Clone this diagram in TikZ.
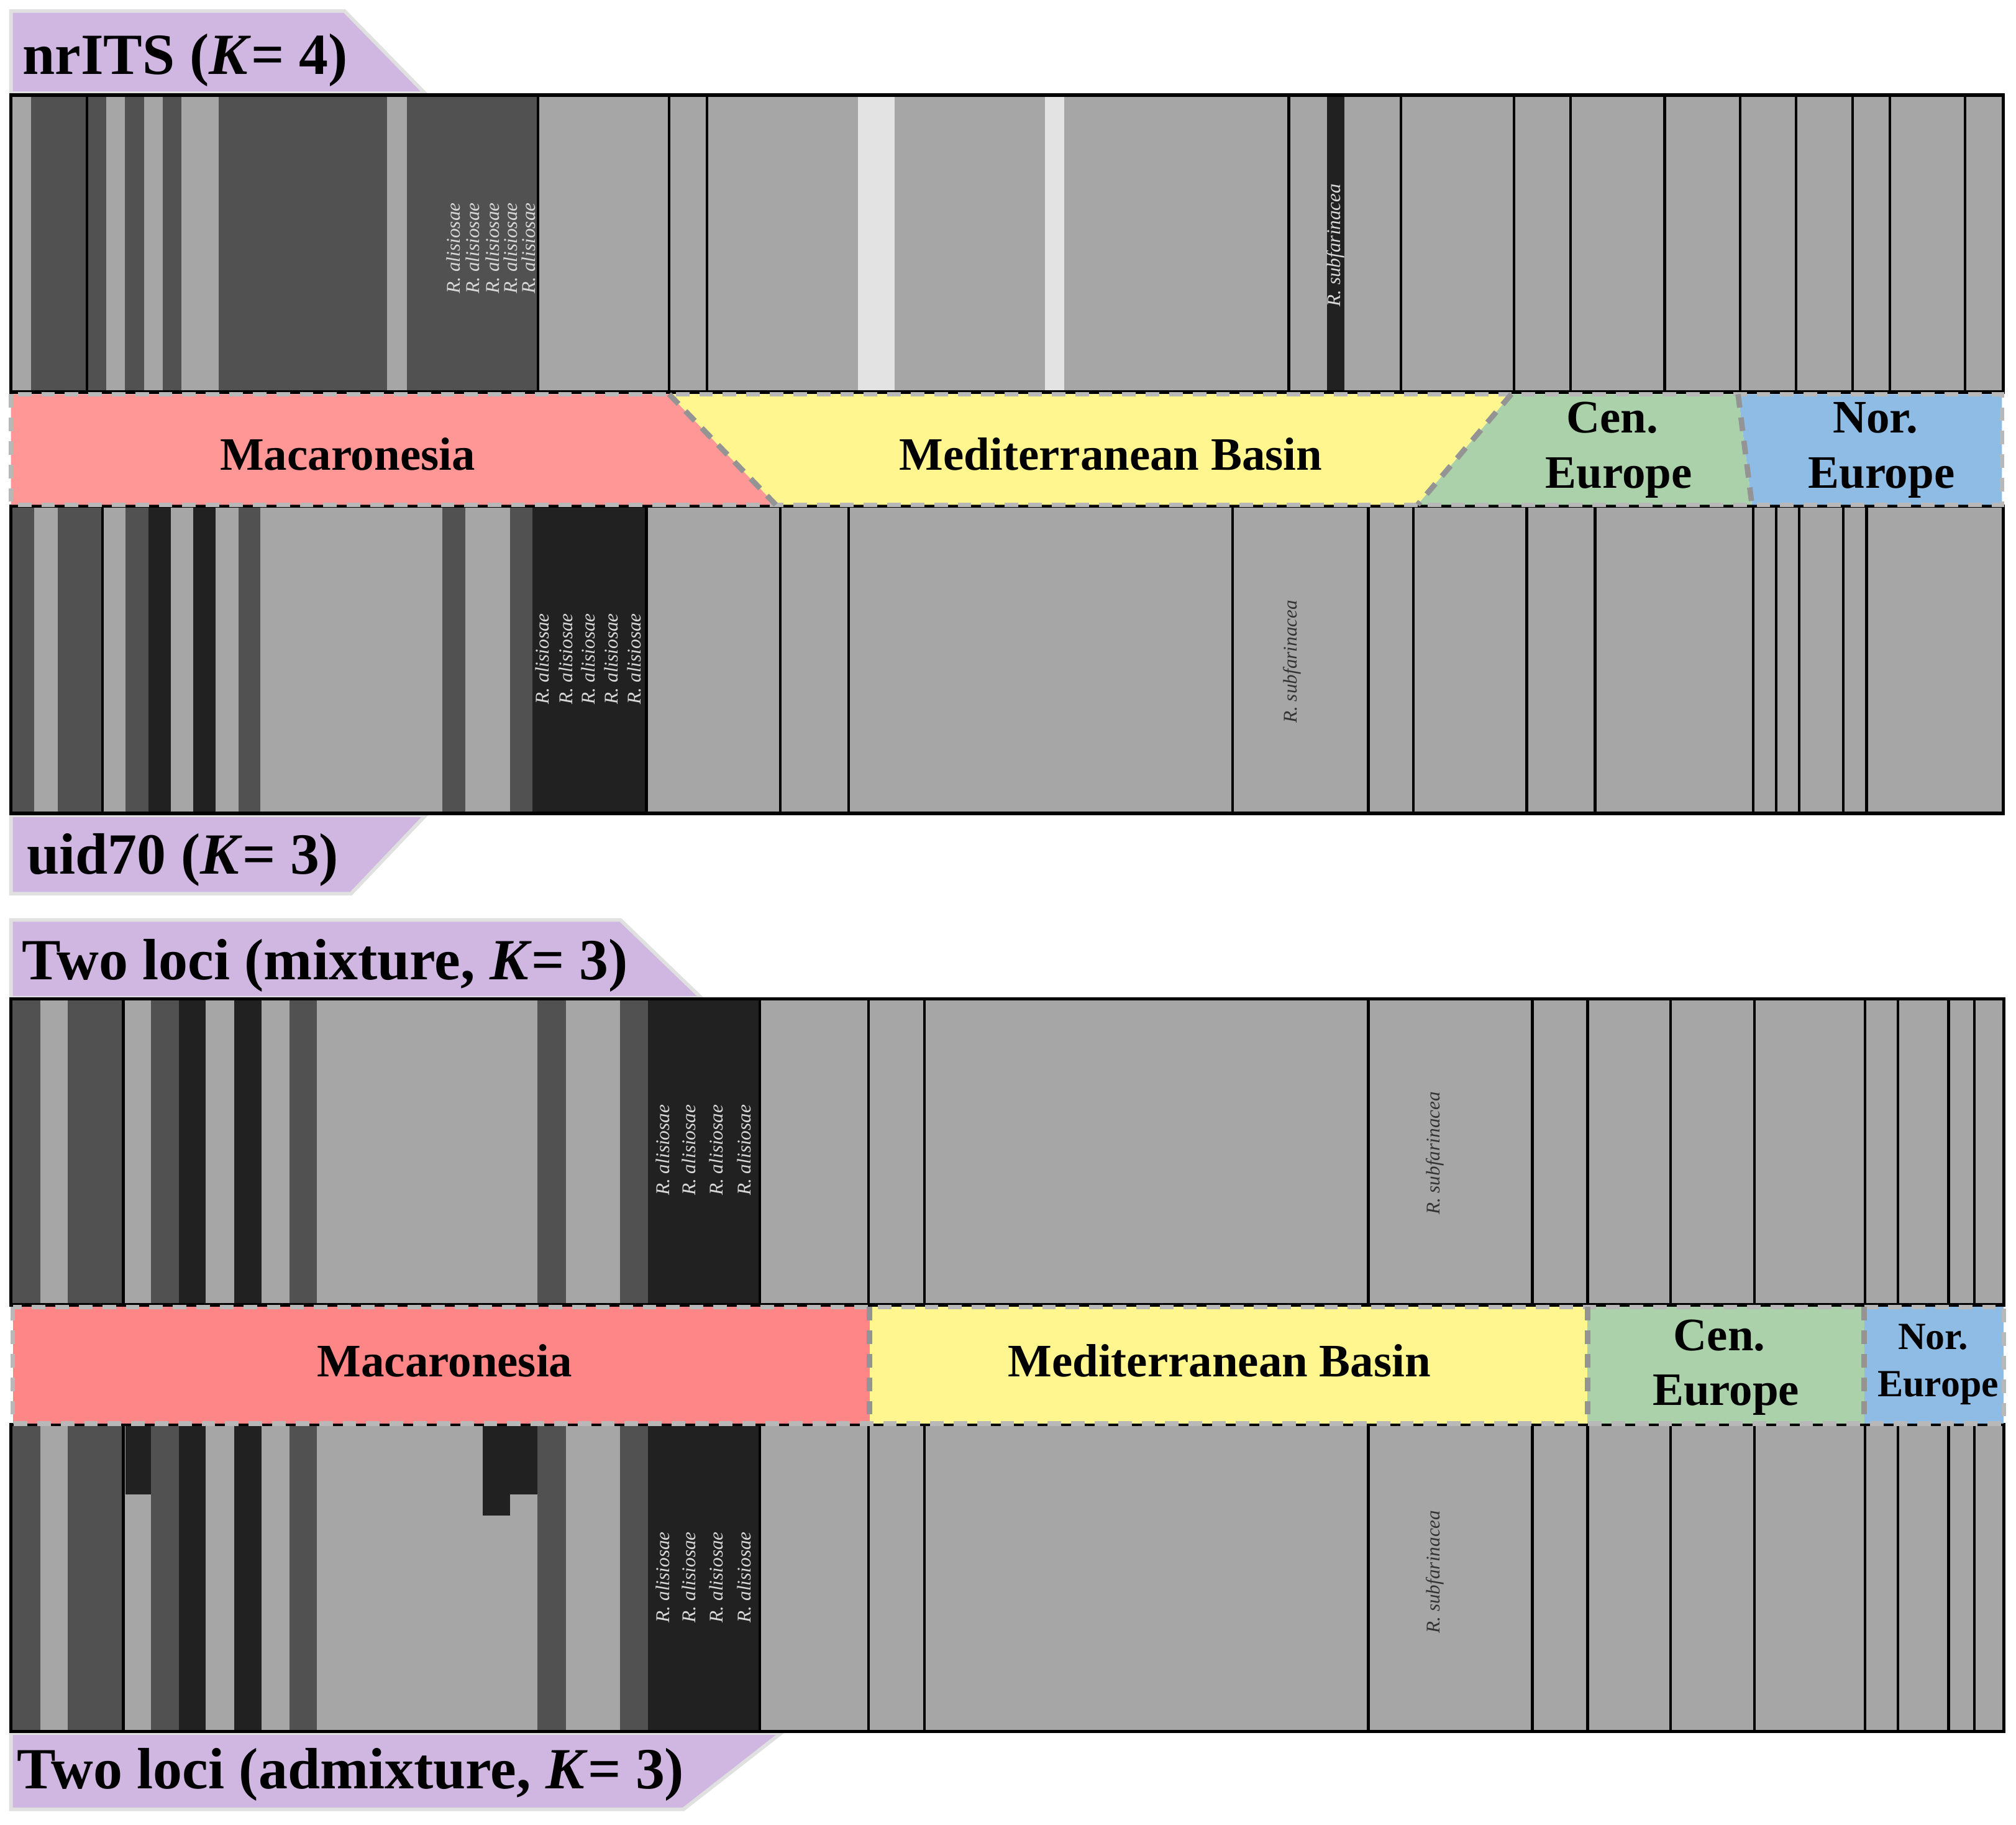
\documentclass[tikz,border=0pt]{standalone}
\usepackage{fontspec}
\setmainfont{Liberation Serif}

\definecolor{lightbar}{HTML}{A6A6A6}
\definecolor{darkbar}{HTML}{515151}
\definecolor{blackbar}{HTML}{212121}
\definecolor{palebar}{HTML}{E3E3E3}
\definecolor{macred}{HTML}{FF9797}
\definecolor{macredtwo}{HTML}{FF8686}
\definecolor{medyellow}{HTML}{FFF68F}
\definecolor{cengreen}{HTML}{AAD1AA}
\definecolor{norblue}{HTML}{8EBCE5}
\definecolor{tabpurple}{HTML}{CFB7E2}

\tikzset{
    tab/.style={fill=tabpurple, draw=black!12, line width=0.8pt},
    title/.style={anchor=base west, inner sep=0pt, font=\fontsize{12.9}{15}\selectfont\bfseries},
    region/.style={anchor=base, inner sep=0pt, font=\fontsize{10.3}{12}\selectfont\bfseries},
    smallregion/.style={anchor=base, inner sep=0pt, font=\fontsize{8.5}{10}\selectfont\bfseries},
    taxon/.style={rotate=90, inner sep=0pt, font=\fontsize{4.3}{5}\selectfont\itshape},
    sep/.style={draw=black, line width=0.6pt},
    frame/.style={draw=black, line width=0.75pt},
    rim/.style={draw=black!28, line width=1pt, dash pattern=on 3pt off 2.2pt},
    divider/.style={draw=black!42, line width=1.2pt, dash pattern=on 3pt off 2.2pt},
}

\begin{document}
\begin{tikzpicture}[x=0.1mm, y=-0.1mm]
    \fill[white] (0,0) rectangle (1568,1419);
    \useasboundingbox (0,0) rectangle (1568,1419);

    % tabs
    \path[tab] (8.5,8.6) -- (268,8.6) -- (330.5,72.5) -- (8.5,72.5) -- cycle;
    \path[tab] (8.5,634) -- (331,634) -- (273,695) -- (8.5,695) -- cycle;
    \path[tab] (8.5,715.4) -- (482.6,715.4) -- (545.5,776) -- (8.5,776) -- cycle;
    \path[tab] (8.5,1347.6) -- (607.7,1347.6) -- (531.5,1407) -- (8.5,1407) -- cycle;

    \node[title] (nrits) at (17,57.8) {nrITS (\textit{K}= 4)};
    \node[title] (uid) at (20.3,679.5) {uid70 (\textit{K}= 3)};
    \node[title] (mix) at (16.6,762) {Two loci (mixture, \textit{K}= 3)};
    \node[title] (admix) at (12.4,1390.9) {Two loci (admixture, \textit{K}= 3)};

    % nrITS
    \fill[lightbar] (8.5,74) rectangle (1558,305);
    \foreach \a/\b in {24.4/82.4, 97.3/111.9, 126.8/141, 170.2/301, 316.3/418.6} {
        \fill[darkbar] (\a,74) rectangle (\b,305);
    }
    \foreach \a/\b in {667.2/695.6, 812.6/827.5} {
        \fill[palebar] (\a,74) rectangle (\b,305);
    }
    \fill[blackbar] (1032.3,74) rectangle (1045.7,305);
    \foreach \x in {67.8, 418.6, 520.3, 549.9, 1002.4, 1089.7, 1177.5, 1221.6, 1294.8, 1353.5, 1396.8, 1440.9, 1470, 1528.4} {
        \draw[sep] (\x,74) -- (\x,305);
    }
    \draw[frame] (8.5,74) rectangle (1558,305);
    \foreach \x [count=\i] in {352.5, 367.8, 383, 397.3, 411.2} {
        \node[taxon, text=black!15] (alisA\i) at (\x,193) {R. alisiosae};
    }
    \node[taxon, text=black!15] (subfA) at (1038.6,190.7) {R. subfarinacea};

    % uid70
    \fill[lightbar] (8.5,393.5) rectangle (1558,632.5);
    \foreach \a/\b in {8.5/26.4, 44.7/79.7, 97.6/115.3, 185.4/202.7, 344/361.7, 396.6/414.2} {
        \fill[darkbar] (\a,393.5) rectangle (\b,632.5);
    }
    \foreach \a/\b in {115.3/132.9, 150.2/167.8, 414.2/502.7} {
        \fill[blackbar] (\a,393.5) rectangle (\b,632.5);
    }
    \foreach \x in {79.7, 502.7, 606.8, 660, 958.7, 1064.3, 1099.2, 1187.4, 1240.6, 1363.6, 1381.6, 1399.2, 1433.8, 1451.8} {
        \draw[sep] (\x,393.5) -- (\x,632.5);
    }
    \draw[frame] (8.5,393.5) rectangle (1558,632.5);
    \foreach \x [count=\i] in {422, 440, 457.6, 475.3, 493.2} {
        \node[taxon, text=black!15] (alisB\i) at (\x,512.3) {R. alisiosae};
    }
    \node[taxon, text=black!80] (subfB) at (1005,514.5) {R. subfarinacea};

    % two loci, mixture and admixture
    \foreach \top/\bot/\p in {776.8/1014.8/C, 1107.8/1346.5/D} {
        \fill[lightbar] (8.5,\top) rectangle (1558.5,\bot);
        \foreach \a/\b in {8.5/31.2, 52.5/95.9, 117.6/139, 225.4/246.4, 418/440, 482.4/504} {
            \fill[darkbar] (\a,\top) rectangle (\b,\bot);
        }
        \foreach \a/\b in {139/160, 182/203.4, 504/590.9} {
            \fill[blackbar] (\a,\top) rectangle (\b,\bot);
        }
    }
    \fill[blackbar] (97.6,1107.8) rectangle (117.6,1162);
    \fill[blackbar] (375.3,1107.8) rectangle (396.6,1178.4);
    \fill[blackbar] (396.6,1107.8) rectangle (418,1162);
    \foreach \top/\bot in {776.8/1014.8, 1107.8/1346.5} {
        \foreach \x in {95.9, 590.9, 675.6, 719, 1064.3, 1191.8, 1234.8, 1299.2, 1364.6, 1450.7, 1476.2, 1515.5, 1535.5} {
            \draw[sep] (\x,\top) -- (\x,\bot);
        }
        \draw[frame] (8.5,\top) rectangle (1558.5,\bot);
    }
    \foreach \x [count=\i] in {515.3, 535.8, 557.2, 579} {
        \node[taxon, text=black!15] (alisC\i) at (\x,894.3) {R. alisiosae};
        \node[taxon, text=black!15] (alisD\i) at (\x,1226.5) {R. alisiosae};
    }
    \node[taxon, text=black!80] (subfC) at (1116.2,896.8) {R. subfarinacea};
    \node[taxon, text=black!80] (subfD) at (1116,1222.3) {R. subfarinacea};

    % regions, single loci
    \fill[macred] (8.5,306.5) -- (520.4,306.5) -- (603.4,392.5) -- (8.5,392.5) -- cycle;
    \fill[medyellow] (520.4,306.5) -- (1175.5,306.5) -- (1102.6,392.5) -- (603.4,392.5) -- cycle;
    \fill[cengreen] (1175.5,306.5) -- (1351.8,306.5) -- (1362.6,392.5) -- (1102.6,392.5) -- cycle;
    \fill[norblue] (1351.8,306.5) -- (1557,306.5) -- (1557,392.5) -- (1362.6,392.5) -- cycle;
    \draw[rim] (8.5,306.5) rectangle (1557,392.5);
    \draw[divider] (520.4,306.5) -- (603.4,392.5);
    \draw[divider] (1175.5,306.5) -- (1102.6,392.5);
    \draw[divider] (1351.8,306.5) -- (1362.6,392.5);
    \node[region] (macA) at (270.3,365.5) {Macaronesia};
    \node[region] (medA) at (864,365.5) {Mediterranean Basin};
    \node[region] (cenA) at (1254,336.7) {Cen.};
    \node[region] (cenAe) at (1259,379.7) {Europe};
    \node[region] (norA) at (1458.5,336.7) {Nor.};
    \node[region] (norAe) at (1463.3,379.7) {Europe};

    % regions, two loci
    \fill[macredtwo] (10,1016.3) rectangle (676.3,1107);
    \fill[medyellow] (676.3,1016.3) rectangle (1234.8,1107);
    \fill[cengreen] (1234.8,1016.3) rectangle (1450,1107);
    \fill[norblue] (1450,1016.3) rectangle (1558.5,1107);
    \draw[rim] (10,1016.3) rectangle (1558.5,1107);
    \foreach \x in {676.3, 1234.8, 1450} {
        \draw[divider] (\x,1016.3) -- (\x,1107);
    }
    \node[region] (macB) at (346,1070.6) {Macaronesia};
    \node[region] (medB) at (948.4,1070.6) {Mediterranean Basin};
    \node[region] (cenB) at (1337.3,1050.2) {Cen.};
    \node[region] (cenBe) at (1342.4,1092.6) {Europe};
    \node[smallregion] (norB) at (1503.6,1049.2) {Nor.};
    \node[smallregion] (norBe) at (1507.4,1085.8) {Europe};
\end{tikzpicture}
\end{document}
